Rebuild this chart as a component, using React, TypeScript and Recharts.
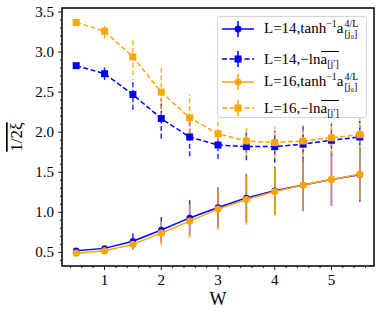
import React from 'react';
import { LineChart, Line, XAxis, YAxis, ErrorBar, ReferenceArea, Label } from 'recharts';

const W = [0.5, 1, 1.5, 2, 2.5, 3, 3.5, 4, 4.5, 5, 5.5];
const blueSolid = [0.52, 0.55, 0.64, 0.78, 0.93, 1.06, 1.18, 1.27, 1.34, 1.41, 1.47];
const blueSolidErr = [0.02, 0.03, 0.1, 0.16, 0.22, 0.25, 0.3, 0.3, 0.32, 0.33, 0.34];
const blueDashed = [2.83, 2.73, 2.47, 2.17, 1.94, 1.84, 1.82, 1.82, 1.85, 1.9, 1.94];
const blueDashedErr = [0.02, 0.08, 0.19, 0.25, 0.24, 0.17, 0.17, 0.2, 0.22, 0.2, 0.2];
const orangeSolid = [0.49, 0.52, 0.6, 0.74, 0.89, 1.04, 1.16, 1.26, 1.34, 1.41, 1.475];
const orangeSolidErr = [0.02, 0.03, 0.07, 0.15, 0.21, 0.26, 0.32, 0.3, 0.33, 0.33, 0.33];
const orangeDashed = [3.37, 3.26, 2.94, 2.5, 2.18, 1.98, 1.89, 1.87, 1.89, 1.93, 1.97];
const orangeDashedErr = [0.02, 0.09, 0.23, 0.32, 0.29, 0.19, 0.18, 0.2, 0.2, 0.2, 0.2];

const xMajor = [1, 2, 3, 4, 5];
const xTicks = Array.from({ length: 27 }, (_, i) => +(0.4 + i * 0.2).toFixed(1));
const yMajor = [0.5, 1.0, 1.5, 2.0, 2.5, 3.0, 3.5];
const yTicks = Array.from({ length: 32 }, (_, i) => +(0.4 + i * 0.1).toFixed(1));

const X_DOMAIN = [0.25, 5.75];
const Y_DOMAIN = [0.33, 3.55];

const BLUE = '#0000ff';
const ORANGE = '#ffa500';
const SERIF = '"Liberation Serif", "DejaVu Serif", serif';

const data = W.map((w, i) => ({
  w,
  bs: blueSolid[i],
  bsErr: blueSolidErr[i],
  bd: blueDashed[i],
  bdErr: blueDashedErr[i],
  os: orangeSolid[i],
  osErr: orangeSolidErr[i],
  od: orangeDashed[i],
  odErr: orangeDashedErr[i],
}));

const isMajor = (v: number, list: number[]) => list.some((m) => Math.abs(m - v) < 1e-6);

const XTick = (props: any) => {
  const { x, y, payload } = props;
  const v = payload.value;
  const major = isMajor(v, xMajor);
  return (
    <g>
      <line x1={x} x2={x} y1={y} y2={y + (major ? 4 : 2)} stroke="#000" strokeWidth={0.9} />
      {major && (
        <text x={x} y={y + 19} textAnchor="middle" fontSize={15} fontFamily={SERIF} fill="#000">
          {v}
        </text>
      )}
    </g>
  );
};

const YTick = (props: any) => {
  const { x, y, payload } = props;
  const v = payload.value;
  const major = isMajor(v, yMajor);
  return (
    <g>
      <line x1={x} x2={x - (major ? 4 : 2)} y1={y} y2={y} stroke="#000" strokeWidth={0.9} />
      {major && (
        <text x={x - 8} y={y + 5} textAnchor="end" fontSize={15} fontFamily={SERIF} fill="#000">
          {v.toFixed(1)}
        </text>
      )}
    </g>
  );
};

const YLabel = (props: any) => {
  const vb = props.viewBox || { x: 0, y: 8, width: 62, height: 258 };
  const cx = 22;
  const cy = vb.y + vb.height / 2;
  return (
    <text
      x={cx}
      y={cy}
      transform={`rotate(-90, ${cx}, ${cy})`}
      textAnchor="middle"
      fontSize={17}
      fontFamily={SERIF}
      fill="#000"
      style={{ textDecoration: 'overline' }}
    >
      1/2ξ
    </text>
  );
};

const XLabel = (props: any) => {
  const vb = props.viewBox || { x: 62, y: 266, width: 312, height: 48 };
  return (
    <text x={vb.x + vb.width / 2} y={305} textAnchor="middle" fontSize={18} fontFamily={SERIF} fill="#000">
      W
    </text>
  );
};

const makeSquare = (color: string) => (props: any) => {
  const { cx, cy, index } = props;
  if (cx == null || cy == null) return <g key={`sq-${index}`} />;
  return <rect key={`sq-${index}`} x={cx - 3.5} y={cy - 3.5} width={7} height={7} fill={color} />;
};

const Sample = ({ color, dashed, square }: { color: string; dashed: boolean; square: boolean }) => (
  <svg width={32} height={18} style={{ display: 'block' }}>
    <line x1={0} x2={32} y1={9} y2={9} stroke={color} strokeWidth={1.5} strokeDasharray={dashed ? '5 2.5' : undefined} />
    <line x1={16} x2={16} y1={1} y2={17} stroke={color} strokeWidth={1.5} />
    {square ? <rect x={12.5} y={5.5} width={7} height={7} fill={color} /> : <circle cx={16} cy={9} r={3.5} fill={color} />}
  </svg>
);

const SupSub = ({ sup, sub }: { sup: string; sub: string }) => (
  <span
    style={{
      display: 'inline-flex',
      flexDirection: 'column',
      fontSize: 10,
      lineHeight: '10px',
      verticalAlign: 'middle',
      marginLeft: 1,
    }}
  >
    <span>{sup}</span>
    <span>{sub}</span>
  </span>
);

const OverA = () => (
  <span style={{ display: 'inline-block', borderTop: '1px solid #000', lineHeight: '14px', paddingTop: 0 }}>
    a<span style={{ fontSize: 10, position: 'relative', top: 3 }}>[j′]</span>
  </span>
);

const Row = ({ top, color, dashed, square, children }: any) => (
  <div style={{ position: 'absolute', left: 4, top, height: 18, display: 'flex', alignItems: 'center', whiteSpace: 'nowrap' }}>
    <Sample color={color} dashed={dashed} square={square} />
    <span style={{ marginLeft: 10, lineHeight: '18px' }}>{children}</span>
  </div>
);

const LegendBox = () => (
  <div
    style={{
      position: 'absolute',
      left: 217,
      top: 16,
      width: 150,
      height: 102,
      boxSizing: 'border-box',
      border: '1px solid #d4d4d4',
      borderRadius: 4,
      background: 'rgba(255,255,255,0.8)',
      fontFamily: SERIF,
      fontSize: 15,
      color: '#000',
    }}
  >
    <Row top={3} color={BLUE} dashed={false} square={false}>
      L=14,tanh<span style={{ fontSize: 10, position: 'relative', top: -6 }}>−1</span>a
      <SupSub sup="4/L" sub="[j₀]" />
    </Row>
    <Row top={33} color={BLUE} dashed={true} square={true}>
      L=14,−ln<OverA />
    </Row>
    <Row top={56} color={ORANGE} dashed={false} square={false}>
      L=16,tanh<span style={{ fontSize: 10, position: 'relative', top: -6 }}>−1</span>a
      <SupSub sup="4/L" sub="[j₀]" />
    </Row>
    <Row top={82} color={ORANGE} dashed={true} square={true}>
      L=16,−ln<OverA />
    </Row>
  </div>
);

export default function App() {
  return (
    <div style={{ position: 'absolute', left: 0, top: 0, width: 381, height: 314, background: '#fff' }}>
      <LineChart width={381} height={314} data={data} margin={{ top: 8, right: 7, bottom: 0, left: 0 }}>
        <XAxis
          dataKey="w"
          type="number"
          domain={X_DOMAIN}
          allowDataOverflow
          ticks={xTicks}
          interval={0}
          tick={<XTick />}
          tickLine={false}
          axisLine={false}
          tickSize={0}
          tickMargin={0}
          height={48}
        >
          <Label content={<XLabel />} />
        </XAxis>
        <YAxis
          type="number"
          domain={Y_DOMAIN}
          allowDataOverflow
          ticks={yTicks}
          interval={0}
          tick={<YTick />}
          tickLine={false}
          axisLine={false}
          tickSize={0}
          tickMargin={0}
          width={62}
        >
          <Label content={<YLabel />} />
        </YAxis>
        <Line
          dataKey="bs"
          stroke={BLUE}
          strokeWidth={1.5}
          isAnimationActive={false}
          dot={{ r: 3.2, fill: BLUE, stroke: BLUE, strokeWidth: 0 }}
          activeDot={false}
        >
          <ErrorBar dataKey="bsErr" direction="y" width={0} stroke={BLUE} strokeWidth={1.5} strokeOpacity={0.85} />
        </Line>
        <Line
          dataKey="bd"
          stroke={BLUE}
          strokeWidth={1.5}
          strokeDasharray="5 2.5"
          isAnimationActive={false}
          dot={makeSquare(BLUE)}
          activeDot={false}
        >
          <ErrorBar dataKey="bdErr" direction="y" width={0} stroke={BLUE} strokeWidth={1.5} strokeDasharray="5 2.5" strokeOpacity={0.85} />
        </Line>
        <Line
          dataKey="os"
          stroke={ORANGE}
          strokeWidth={1.5}
          isAnimationActive={false}
          dot={{ r: 3.6, fill: ORANGE, stroke: ORANGE, strokeWidth: 0 }}
          activeDot={false}
        >
          <ErrorBar dataKey="osErr" direction="y" width={0} stroke={ORANGE} strokeWidth={1.5} strokeOpacity={0.85} />
        </Line>
        <Line
          dataKey="od"
          stroke={ORANGE}
          strokeWidth={1.5}
          strokeDasharray="5 2.5"
          isAnimationActive={false}
          dot={makeSquare(ORANGE)}
          activeDot={false}
        >
          <ErrorBar dataKey="odErr" direction="y" width={0} stroke={ORANGE} strokeWidth={1.5} strokeDasharray="5 2.5" strokeOpacity={0.85} />
        </Line>
        <ReferenceArea
          x1={X_DOMAIN[0]}
          x2={X_DOMAIN[1]}
          y1={Y_DOMAIN[0]}
          y2={Y_DOMAIN[1]}
          fill="none"
          stroke="#000"
          strokeWidth={1.5}
          ifOverflow="visible"
        />
      </LineChart>
      <LegendBox />
    </div>
  );
}
